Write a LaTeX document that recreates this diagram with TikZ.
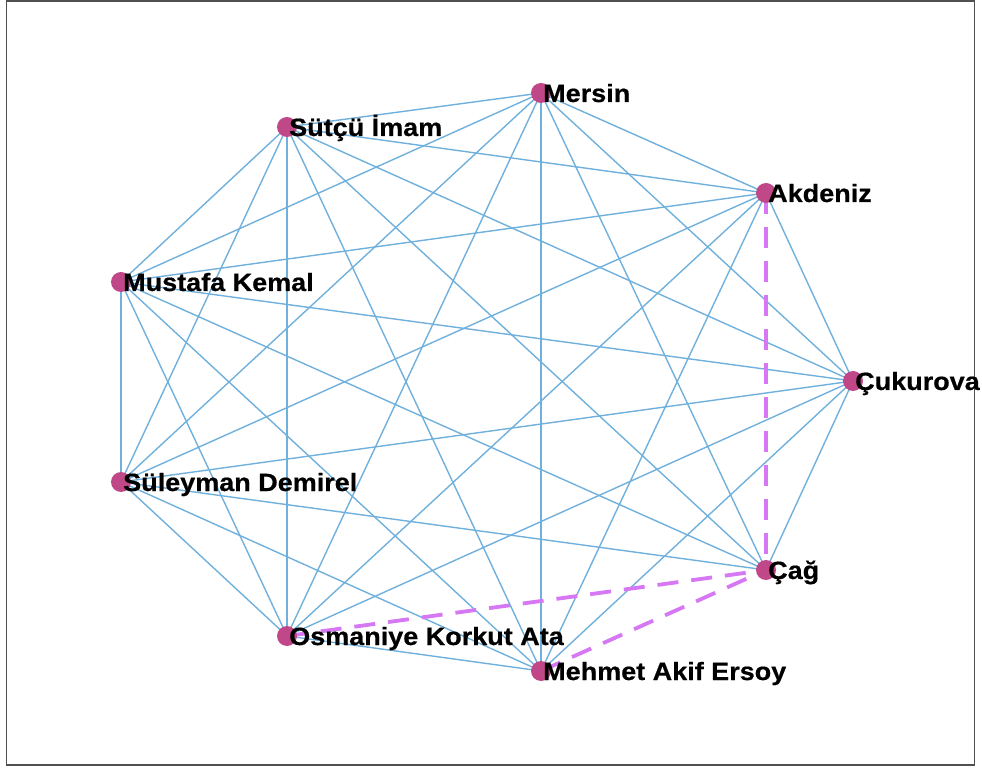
\documentclass[tikz,border=0pt]{standalone}
\usepackage{fontspec}
\setmainfont{Liberation Sans}
\newfontfamily\labfont{Liberation Sans}[FakeStretch=1.08,FakeBold=0.6]
\definecolor{edgeblue}{RGB}{112,176,220}
\definecolor{dashpurple}{RGB}{214,120,244}
\definecolor{dotpink}{RGB}{192,72,136}
\definecolor{framegray}{RGB}{80,80,80}
\tikzset{
  x=1pt,y=1pt,
  vert/.style={circle,fill=dotpink,minimum size=20pt,inner sep=0pt},
  lab/.style={anchor=base west,inner sep=0pt,xshift=2pt,yshift=-9pt,
    font=\labfont\bfseries\fontsize{25}{29}\selectfont,text=black},
  bedge/.style={draw=edgeblue,line width=1.4pt},
  dedge/.style={draw=dashpurple,line width=3.8pt,dash pattern=on 21pt off 13pt},
}
\begin{document}
\begin{tikzpicture}
\useasboundingbox (0,0) rectangle (982,769);
\draw[framegray,line width=1.2pt] (6.5,4) rectangle (974.5,768);
% vertices (y = 769 - pixel y)
\coordinate (ME) at (541,676);
\coordinate (SI) at (287,642);
\coordinate (AK) at (766,576);
\coordinate (MK) at (121,487);
\coordinate (CU) at (853,388);
\coordinate (SD) at (121,287);
\coordinate (CA) at (766,199);
\coordinate (OK) at (287,133);
\coordinate (MA) at (541,98);
% blue edges
\foreach \a/\b in {ME/SI,ME/AK,ME/MK,ME/CU,ME/SD,ME/CA,ME/OK,ME/MA,
  SI/AK,SI/MK,SI/CU,SI/SD,SI/CA,SI/OK,SI/MA,
  AK/MK,AK/CU,AK/SD,AK/OK,AK/MA,
  MK/CU,MK/SD,MK/CA,MK/OK,MK/MA,
  CU/SD,CU/CA,CU/OK,CU/MA,
  SD/CA,SD/OK,SD/MA,
  OK/MA}
  \draw[bedge] (\a) -- (\b);
% dashed edges
\draw[dedge] (AK) -- (CA);
\draw[dedge] (OK) -- (CA);
\draw[dedge] (MA) -- (CA);
% dots
\foreach \n in {ME,SI,AK,MK,CU,SD,CA,OK,MA}
  \node[vert] (d\n) at (\n) {};
% labels
\node[lab] (lME) at (ME) {Mersin};
\node[lab] (lSI) at (SI) {Sütçü İmam};
\node[lab] (lAK) at (AK) {Akdeniz};
\node[lab] (lMK) at (MK) {Mustafa Kemal};
\node[lab] (lCU) at (CU) {Çukurova};
\node[lab] (lSD) at (SD) {Süleyman Demirel};
\node[lab] (lCA) at (CA) {Çağ};
\node[lab] (lOK) at (OK) {Osmaniye Korkut Ata};
\node[lab] (lMA) at (MA) {Mehmet Akif Ersoy};
\end{tikzpicture}
\end{document}
